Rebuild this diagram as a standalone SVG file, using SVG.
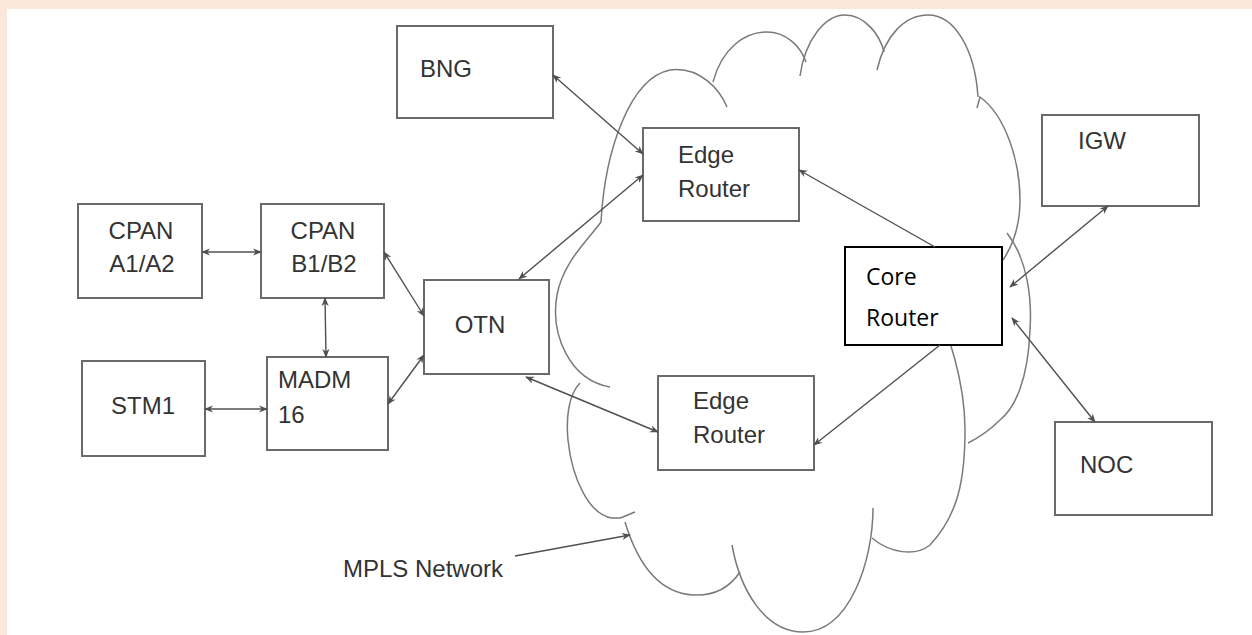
<svg xmlns="http://www.w3.org/2000/svg" width="1252" height="635" viewBox="0 0 1252 635">
  <style>
    .box { fill: #ffffff; stroke: #6a6a6a; stroke-width: 2; }
    .core { fill: #ffffff; stroke: #000000; stroke-width: 2; }
    .lbl { font-family: "Liberation Sans", Arial, sans-serif; font-size: 24px; fill: #333333; }
    .lbl-c { font-family: "Liberation Sans", Arial, sans-serif; font-size: 24px; fill: #333333; text-anchor: middle; }
    .lbl-core { font-family: "Open Sans", "Noto Sans", sans-serif; font-size: 23px; fill: #000000; }
    .link { fill: none; stroke: #505050; stroke-width: 1.4; }
    .cloud { fill: none; stroke: #7a7a7a; stroke-width: 1.5; }
  </style>
  <defs>
    <marker id="head" viewBox="0 0 10 10" refX="9" refY="5" markerWidth="9" markerHeight="9" markerUnits="userSpaceOnUse" orient="auto-start-reverse">
      <path d="M0,1 L10,5 L0,9 L3,5 Z" fill="#505050"/>
    </marker>
  </defs>

  <!-- page -->
  <rect x="0" y="0" width="1252" height="635" fill="#ffffff"/>
  <rect x="0" y="0" width="1252" height="9" fill="#fce8da"/>
  <rect x="0" y="0" width="7" height="635" fill="#fce8da"/>

  <!-- MPLS cloud outline -->
  <g id="cloud">
    <path class="cloud" d="M610,387 C570,380 550,335 557,295 C563,262 588,240 601,222 C605,150 630,78 670,70 C700,66 720,90 727,107"/>
    <path class="cloud" d="M713,82 C722,48 745,32 767,32 C785,32 800,45 806,62"/>
    <path class="cloud" d="M800,76 C805,40 825,15 845,15 C865,15 880,35 884,52"/>
    <path class="cloud" d="M877,70 C885,35 905,15 928,15 C955,15 975,50 978,97"/>
    <path class="cloud" d="M977,108 L980,97 C1005,115 1020,160 1020,200 C1020,225 1013,245 1003,260"/>
    <path class="cloud" d="M1007,233 C1028,260 1032,300 1030,330 C1028,380 1015,408 1000,420 C990,430 978,438 968,443"/>
    <path class="cloud" d="M925,300 C950,320 965,390 965,430 C965,480 958,515 930,545 C915,557 890,553 872,538"/>
    <path class="cloud" d="M873,508 C873,560 850,632 803,632 C765,632 740,590 732,545"/>
    <path class="cloud" d="M740,572 C728,590 712,596 693,595 C660,593 638,565 625,522"/>
    <path class="cloud" d="M580,383 C568,395 566,420 568,440 C572,480 590,515 612,518 L620,518 C626,516 630,514 635,512"/>
  </g>

  <g id="bng">
    <rect class="box" x="397" y="26" width="156" height="92"/>
    <text class="lbl" x="420" y="77">BNG</text>
  </g>
  <g id="edge-router-top">
    <rect class="box" x="643" y="128" width="156" height="93"/>
    <text class="lbl" x="678" y="163">Edge</text>
    <text class="lbl" x="678" y="197">Router</text>
  </g>
  <g id="cpan-a">
    <rect class="box" x="78" y="204" width="124" height="94"/>
    <text class="lbl-c" x="141" y="239">CPAN</text>
    <text class="lbl-c" x="142" y="272">A1/A2</text>
  </g>
  <g id="cpan-b">
    <rect class="box" x="261" y="204" width="123" height="94"/>
    <text class="lbl-c" x="323" y="239">CPAN</text>
    <text class="lbl-c" x="324" y="272">B1/B2</text>
  </g>
  <g id="otn">
    <rect class="box" x="424" y="280" width="125" height="94"/>
    <text class="lbl-c" x="480" y="333">OTN</text>
  </g>
  <g id="stm1">
    <rect class="box" x="82" y="361" width="123" height="95"/>
    <text class="lbl-c" x="143" y="414">STM1</text>
  </g>
  <g id="madm16">
    <rect class="box" x="267" y="357" width="121" height="93"/>
    <text class="lbl" x="278" y="388">MADM</text>
    <text class="lbl" x="278" y="423">16</text>
  </g>
  <g id="edge-router-bottom">
    <rect class="box" x="658" y="376" width="156" height="94"/>
    <text class="lbl" x="693" y="409">Edge</text>
    <text class="lbl" x="693" y="443">Router</text>
  </g>
  <g id="core-router">
    <rect class="core" x="845" y="247" width="157" height="98"/>
    <text class="lbl-core" x="866" y="285">Core</text>
    <text class="lbl-core" x="866" y="326">Router</text>
  </g>
  <g id="igw">
    <rect class="box" x="1042" y="115" width="157" height="91"/>
    <text class="lbl" x="1078" y="149">IGW</text>
  </g>
  <g id="noc">
    <rect class="box" x="1055" y="422" width="157" height="93"/>
    <text class="lbl" x="1080" y="473">NOC</text>
  </g>
  <g id="mpls-label">
    <text class="lbl" x="343" y="577">MPLS Network</text>
  </g>

  <!-- connectors, drawn over the box edges so every arrowhead shows -->
  <g id="connectors">
    <line class="link" x1="553" y1="75" x2="643" y2="154" marker-start="url(#head)" marker-end="url(#head)"/>
    <line class="link" x1="519" y1="279" x2="643" y2="175" marker-start="url(#head)" marker-end="url(#head)"/>
    <line class="link" x1="935" y1="247" x2="799" y2="170" marker-end="url(#head)"/>
    <line class="link" x1="202" y1="252" x2="261" y2="252" marker-start="url(#head)" marker-end="url(#head)"/>
    <line class="link" x1="325" y1="298" x2="326" y2="357" marker-start="url(#head)" marker-end="url(#head)"/>
    <line class="link" x1="384" y1="252" x2="424" y2="316" marker-start="url(#head)" marker-end="url(#head)"/>
    <line class="link" x1="388" y1="404" x2="424" y2="355" marker-start="url(#head)" marker-end="url(#head)"/>
    <line class="link" x1="205" y1="409" x2="267" y2="409" marker-start="url(#head)" marker-end="url(#head)"/>
    <line class="link" x1="526" y1="377" x2="658" y2="432" marker-start="url(#head)" marker-end="url(#head)"/>
    <line class="link" x1="940" y1="345" x2="814" y2="445" marker-end="url(#head)"/>
    <line class="link" x1="1108" y1="206" x2="1010" y2="287" marker-start="url(#head)" marker-end="url(#head)"/>
    <line class="link" x1="1095" y1="422" x2="1012" y2="318" marker-start="url(#head)" marker-end="url(#head)"/>
    <line class="link" x1="515" y1="556" x2="630" y2="535" marker-end="url(#head)"/>
  </g>
</svg>
